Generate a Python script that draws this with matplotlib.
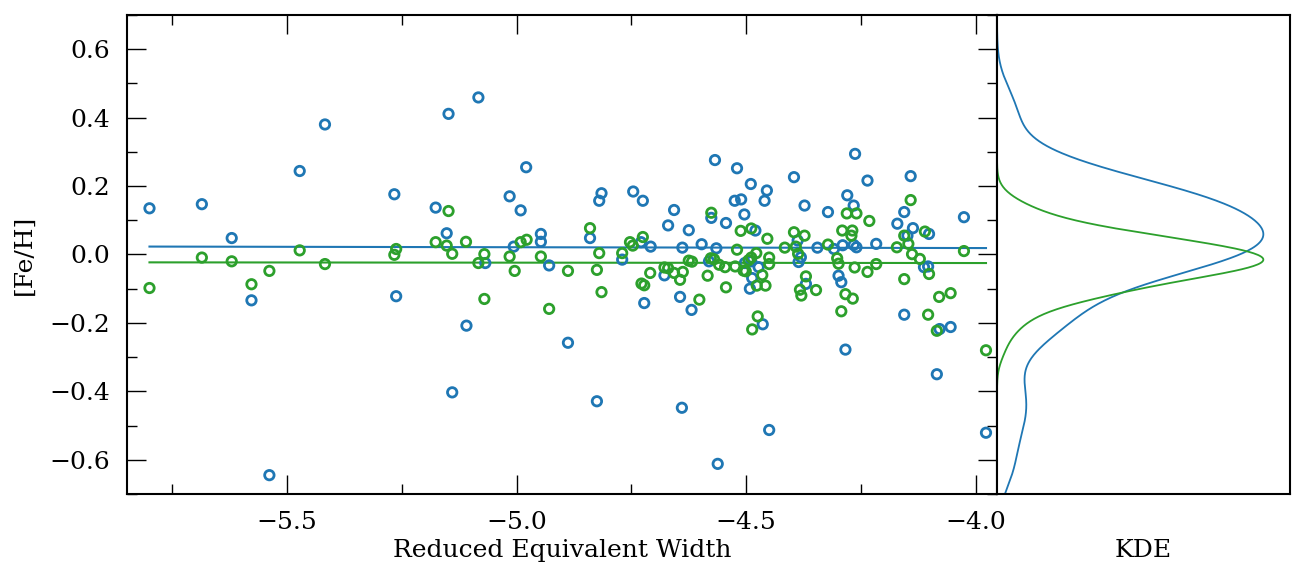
import numpy as np
import matplotlib.pyplot as plt
from matplotlib.ticker import MultipleLocator

# -----------------------------
# Data
# -----------------------------
blue_x = [-5.799, -5.685, -5.620, -5.472, -5.417, -5.266, -5.577, -5.538, -5.262, -5.176,
          -5.148, -5.083, -5.152, -5.015, -4.991, -4.979, -5.006, -4.947, -4.947, -4.840,
          -4.820, -4.815, -4.746, -4.725, -4.729, -4.708, -4.657, -4.670, -4.625, -4.639,
          -4.568, -4.520, -4.490, -4.455, -4.460, -4.525, -4.511, -4.396, -4.373, -4.504,
          -4.576, -4.544, -4.597, -4.565, -4.480, -4.263, -4.236, -4.142, -4.280, -4.266,
          -4.156, -4.322, -4.171, -4.137, -4.149, -4.102, -4.026, -4.388, -4.345, -4.309,
          -4.266, -4.290, -4.260, -4.217, -5.109, -5.140, -4.888, -4.825, -4.640, -4.929,
          -5.068, -4.770, -4.722, -4.678, -4.644, -4.619, -4.562, -4.450, -4.492, -4.464,
          -4.487, -4.473, -4.503, -4.489, -4.581, -4.386, -4.381, -4.370, -4.299, -4.293,
          -4.284, -4.113, -4.104, -4.156, -4.055, -4.079, -4.085, -3.978]
blue_y = [0.135, 0.147, 0.048, 0.244, 0.380, 0.176, -0.134, -0.645, -0.122, 0.137,
          0.411, 0.459, 0.062, 0.170, 0.129, 0.255, 0.023, 0.060, 0.037, 0.048,
          0.157, 0.179, 0.184, 0.157, 0.036, 0.023, 0.130, 0.085, 0.071, 0.020,
          0.276, 0.252, 0.206, 0.187, 0.157, 0.157, 0.161, 0.226, 0.143, 0.117,
          0.107, 0.092, 0.030, 0.018, 0.070, 0.294, 0.216, 0.229, 0.173, 0.143,
          0.124, 0.124, 0.090, 0.077, 0.055, 0.060, 0.109, 0.041, 0.020, 0.016,
          0.028, 0.027, 0.021, 0.031, -0.208, -0.403, -0.258, -0.429, -0.448, -0.032,
          -0.025, -0.015, -0.142, -0.061, -0.124, -0.162, -0.612, -0.513, -0.100, -0.204,
          -0.069, -0.037, -0.025, -0.020, -0.020, -0.022, -0.008, -0.086, -0.062, -0.081,
          -0.278, -0.037, -0.035, -0.176, -0.212, -0.218, -0.350, -0.521]

green_x = [-5.799, -5.685, -5.620, -5.577, -5.538, -5.472, -5.417, -5.266, -5.262, -5.148,
           -5.176, -5.152, -5.140, -5.110, -5.070, -5.083, -5.070, -4.991, -4.978, -5.015,
           -5.004, -4.947, -4.888, -4.929, -4.840, -4.820, -4.825, -4.815, -4.770, -4.753,
           -4.747, -4.725, -4.709, -4.722, -4.728, -4.678, -4.670, -4.657, -4.638, -4.644,
           -4.625, -4.618, -4.602, -4.577, -4.570, -4.559, -4.584, -4.576, -4.546, -4.524,
           -4.520, -4.512, -4.489, -4.454, -4.506, -4.501, -4.495, -4.478, -4.489, -4.544,
           -4.477, -4.458, -4.465, -4.475, -4.487, -4.450, -4.450, -4.396, -4.373, -4.416,
           -4.392, -4.387, -4.370, -4.383, -4.380, -4.348, -4.322, -4.302, -4.299, -4.291,
           -4.269, -4.271, -4.281, -4.260, -4.232, -4.264, -4.236, -4.217, -4.284, -4.268,
           -4.293, -4.142, -4.156, -4.111, -4.172, -4.147, -4.139, -4.122, -4.102, -4.156,
           -4.104, -4.080, -4.055, -4.085, -4.026, -3.978]
green_y = [-0.098, -0.009, -0.020, -0.087, -0.048, 0.012, -0.028, -0.001, 0.016, 0.127,
           0.036, 0.026, 0.002, 0.037, 0.001, -0.025, -0.130, 0.036, 0.043, -0.006,
           -0.048, -0.006, -0.048, -0.159, 0.077, 0.004, -0.045, -0.110, 0.004, 0.036,
           0.026, 0.051, -0.054, -0.090, -0.085, -0.038, -0.040, -0.054, -0.051, -0.074,
           -0.018, -0.021, -0.132, -0.011, -0.014, -0.030, -0.062, 0.122, -0.037, -0.035,
           0.014, 0.069, 0.076, 0.046, -0.047, -0.049, -0.017, 0.004, -0.009, -0.096,
           -0.091, -0.091, -0.060, -0.181, -0.219, -0.009, -0.028, 0.065, 0.055, 0.020,
           0.023, 0.002, -0.064, -0.103, -0.120, -0.104, 0.029, -0.011, -0.027, 0.070,
           0.070, 0.055, 0.120, 0.120, 0.098, -0.038, -0.051, -0.028, -0.116, -0.129,
           -0.166, 0.159, 0.055, 0.067, 0.021, 0.031, 0.001, -0.013, -0.057, -0.072,
           -0.176, -0.124, -0.113, -0.223, 0.010, -0.280]

# linear fits [slope, intercept] as drawn in the reference
blue_fit = [-0.0024, 0.0092]
green_fit = [-0.0011, -0.0294]

# KDE bandwidths (Fe/H units)
blue_bw = 0.068
green_bw = 0.037

BLUE = "#1f77b4"
GREEN = "#2ca02c"

plt.rcParams["font.family"] = "DejaVu Serif"
plt.rcParams["font.size"] = 18
plt.rcParams["mathtext.fontset"] = "dejavuserif"


def kde(values, grid, bw):
    v = np.asarray(values)
    d = np.exp(-0.5 * ((grid[:, None] - v[None, :]) / bw) ** 2).sum(axis=1)
    return d / d.max()


fig = plt.figure(figsize=(13.05, 5.83), dpi=100)
ax = fig.add_axes([0.0973, 0.1527, 0.6667, 0.8216])
ax_k = fig.add_axes([0.764, 0.1527, 0.2245, 0.8216], sharey=ax)

ax.scatter(blue_x, blue_y, s=46, facecolors="none", edgecolors=BLUE, linewidths=2.0, zorder=3)
ax.scatter(green_x, green_y, s=46, facecolors="none", edgecolors=GREEN, linewidths=2.0, zorder=3)

for xs, fit, c in [(blue_x, blue_fit, BLUE), (green_x, green_fit, GREEN)]:
    xx = np.array([min(xs), max(xs)])
    ax.plot(xx, np.polyval(fit, xx), color=c, lw=1.5, zorder=2)

ax.set_xlim(-5.848, -3.954)
ax.set_ylim(-0.7, 0.7)
ax.xaxis.set_major_locator(MultipleLocator(0.5))
ax.xaxis.set_minor_locator(MultipleLocator(0.25))
ax.yaxis.set_major_locator(MultipleLocator(0.2))
ax.yaxis.set_minor_locator(MultipleLocator(0.1))
ax.tick_params(which="both", direction="in", top=True, right=True, width=1.0)
ax.tick_params(which="major", length=14, pad=12)
ax.tick_params(which="minor", length=7)
ax.set_xlabel("Reduced Equivalent Width")
ax.set_ylabel("[Fe/H]", labelpad=10)
ax.xaxis.set_label_coords(0.5, -0.095)

grid = np.linspace(-0.7, 0.7, 600)
ax_k.plot(kde(blue_y, grid, blue_bw), grid, color=BLUE, lw=1.3)
ax_k.plot(kde(green_y, grid, green_bw), grid, color=GREEN, lw=1.3)
ax_k.set_xlim(0, 1.10)
ax_k.tick_params(which="both", left=False, bottom=False, labelleft=False, labelbottom=False)
ax_k.set_xlabel("KDE")
ax_k.xaxis.set_label_coords(0.5, -0.095)

for a in (ax, ax_k):
    for s in a.spines.values():
        s.set_linewidth(1.5)

fig.savefig("out.png", dpi=100)
